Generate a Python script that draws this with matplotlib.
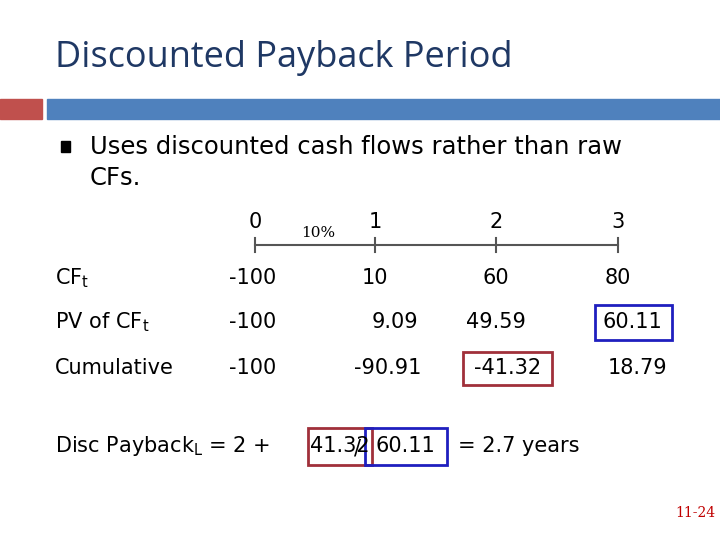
import matplotlib
matplotlib.use("Agg")
import matplotlib.pyplot as plt
from matplotlib.patches import Rectangle

periods = ["0", "1", "2", "3"]
rate_label = "10%"
row_labels = [r"CF$_\mathrm{t}$", r"PV of CF$_\mathrm{t}$", "Cumulative"]
cf = ["-100", "10", "60", "80"]
pv = ["-100", "9.09", "49.59", "60.11"]
cum = ["-100", "-90.91", "-41.32", "18.79"]

fig = plt.figure(figsize=(7.2, 5.4), dpi=100)
ax = fig.add_axes([0, 0, 1, 1])
ax.set_xlim(0, 720); ax.set_ylim(540, 0); ax.axis("off")

fs = "DejaVu Sans"
ax.text(55, 58, "Discounted Payback Period", fontsize=26, color="#1F3864", va="center", family="Open Sans")
ax.add_patch(Rectangle((0, 99), 42, 20, color="#C0504D"))
ax.add_patch(Rectangle((47, 99), 673, 20, color="#4F81BD"))
ax.add_patch(Rectangle((61, 141), 9, 11, color="black"))
ax.text(90, 147, "Uses discounted cash flows rather than raw", fontsize=17.5, va="center", family=fs)
ax.text(90, 178, "CFs.", fontsize=17.5, va="center", family=fs)

xs = [255, 375, 496, 618]
for x, p in zip(xs, periods):
    ax.text(x, 222, p, fontsize=15, ha="center", va="center", family=fs)
    ax.plot([x, x], [238, 252], color="#555555", lw=1.5)
ax.plot([xs[0], xs[-1]], [245, 245], color="#555555", lw=1.5)
ax.text(318, 233, rate_label, fontsize=11, ha="center", va="center", family="DejaVu Serif")

rows_y = [278, 322, 368]
offsets = [[253, 375, 496, 618], [253, 395, 496, 632], [253, 388, 508, 637]]
for y, lab, vals, offs in zip(rows_y, row_labels, [cf, pv, cum], offsets):
    ax.text(55, y, lab, fontsize=15, va="center", family=fs)
    for x, v in zip(offs, vals):
        ax.text(x, y, v, fontsize=15, ha="center", va="center", family=fs)

ax.add_patch(Rectangle((595, 305), 77, 35, fill=False, ec="#1F1FBF", lw=2))
ax.add_patch(Rectangle((463, 352), 89, 33, fill=False, ec="#A0303A", lw=2))

ax.text(55, 446, r"Disc Payback$_\mathrm{L}$ = 2 +", fontsize=15, va="center", family=fs)
ax.text(340, 446, "41.32", fontsize=15, ha="center", va="center", family=fs)
ax.text(357, 448, "/", fontsize=15, ha="center", va="center", family=fs)
ax.text(405, 446, "60.11", fontsize=15, ha="center", va="center", family=fs)
ax.text(458, 446, "= 2.7 years", fontsize=15, va="center", family=fs)
ax.add_patch(Rectangle((308, 428), 64, 37, fill=False, ec="#A0303A", lw=2))
ax.add_patch(Rectangle((365, 428), 82, 37, fill=False, ec="#1F1FBF", lw=2))

ax.text(695, 513, "11-24", fontsize=10, color="#C00000", ha="center", va="center", family="DejaVu Serif")
fig.savefig("out.png", dpi=100)
